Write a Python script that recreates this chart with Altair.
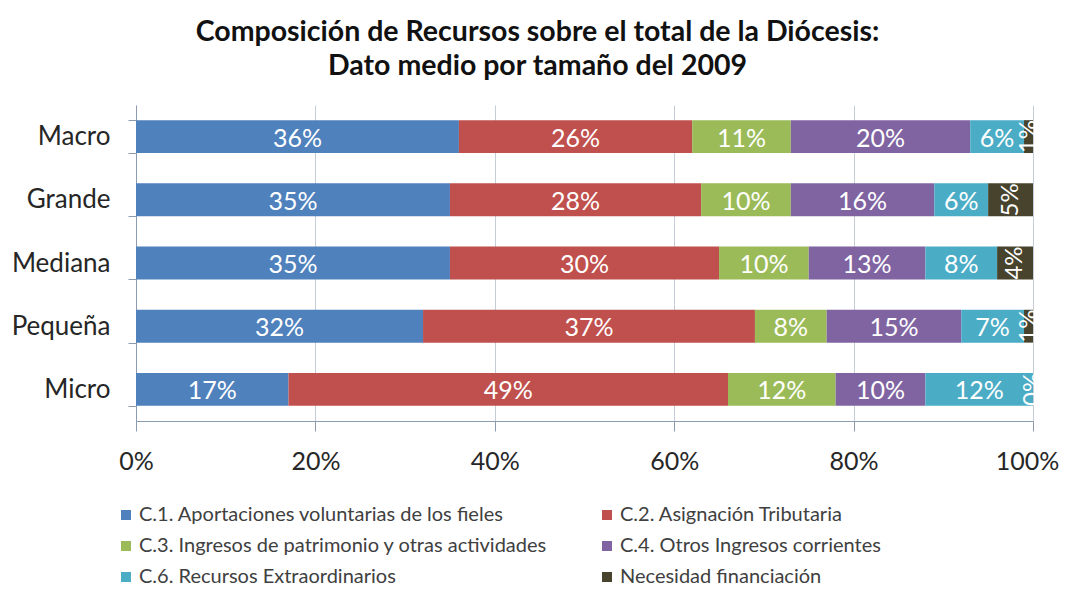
import altair as alt
import pandas as pd

categories = ["Macro", "Grande", "Mediana", "Pequeña", "Micro"]
series = [
    "C.1. Aportaciones voluntarias de los fieles",
    "C.2. Asignación Tributaria",
    "C.3. Ingresos de patrimonio y otras actividades",
    "C.4. Otros Ingresos corrientes",
    "C.6. Recursos Extraordinarios",
    "Necesidad financiación",
]
c1 = [36, 35, 35, 32, 17]
c2 = [26, 28, 30, 37, 49]
c3 = [11, 10, 10, 8, 12]
c4 = [20, 16, 13, 15, 10]
c6 = [6, 6, 8, 7, 12]
nf = [1, 5, 4, 1, 0]
colors = ["#4f81bd", "#c0504d", "#9bbb59", "#8064a2", "#4bacc6", "#48432c"]
x_ticks = [0, 0.2, 0.4, 0.6, 0.8, 1.0]

values = [c1, c2, c3, c4, c6, nf]
rows = []
for i, s in enumerate(series):
    for j, c in enumerate(categories):
        rows.append({"cat": c, "serie": s, "idx": i, "value": values[i][j]})
df = pd.DataFrame(rows)

FONT = "Lato"
base = alt.Chart(df)

y_enc = alt.Y(
    "cat:N", sort=categories,
    scale=alt.Scale(paddingInner=0.48, paddingOuter=0.24),
    axis=alt.Axis(title=None, labelFontSize=26, labelColor="#262626", labelFont=FONT,
                  labelPadding=18, tickSize=8, tickBand="extent", domainColor="#8c9cae",
                  tickColor="#8c9cae", grid=False),
)

bars = base.mark_bar().encode(
    y=y_enc,
    x=alt.X("value:Q", stack="normalize",
            axis=alt.Axis(title=None, format=".0%", values=x_ticks, labelFontSize=25,
                          labelFont=FONT, labelColor="#262626", tickSize=10, labelPadding=18,
                          labelFlush=False,
                          labelOffset=alt.condition("datum.value == 1", alt.value(-6), alt.value(0)),
                          domainColor="#8c9cae", tickColor="#8c9cae", grid=True,
                          gridColor="#c5ced8")),
    color=alt.Color("serie:N", sort=series,
                    scale=alt.Scale(domain=series, range=colors),
                    legend=alt.Legend(title=None, orient="none", legendX=-20, legendY=400,
                                      direction="horizontal",
                                      columns=2, columnPadding=49, rowPadding=11,
                                      symbolType="square", symbolSize=100, symbolStrokeWidth=0,
                                      labelFontSize=20, labelFont=FONT, labelColor="#404040",
                                      labelOffset=3, labelLimit=600)),
    order=alt.Order("idx:Q"),
)

lab_base = base.transform_stack(
    stack="value", groupby=["cat"], as_=["x0", "x1"],
    sort=[alt.SortField("idx", order="ascending")], offset="normalize",
).transform_calculate(mid="(datum.x0 + datum.x1) / 2", lbl="datum.value + '%'")

labels_h = lab_base.transform_filter(alt.datum.idx < 5).mark_text(
    color="white", fontSize=25, font=FONT, baseline="middle", align="center", dy=2
).encode(y=alt.Y("cat:N", sort=categories), x=alt.X("mid:Q"), text="lbl:N")

labels_v = lab_base.transform_filter(alt.datum.idx == 5).mark_text(
    color="white", fontSize=24, font=FONT, baseline="middle", align="center", angle=270
).encode(y=alt.Y("cat:N", sort=categories), x=alt.X("mid:Q"), text="lbl:N")

chart = alt.layer(bars, labels_h, labels_v).properties(
    width=897, height=316,
    title=alt.TitleParams(
        text=["Composición de Recursos sobre el total de la Diócesis:",
              "Dato medio por tamaño del 2009"],
        font=FONT, fontSize=28.5, fontWeight="bold", color="#111111",
        anchor="middle", frame="group", dx=-47, offset=12, lineHeight=34),
    autosize=alt.AutoSizeParams(type="none"),
    padding={"left": 128, "top": 97, "right": 26, "bottom": 166},
).configure_view(stroke=None)

chart.save("out.html", embed_options={"renderer": "svg", "actions": False})
